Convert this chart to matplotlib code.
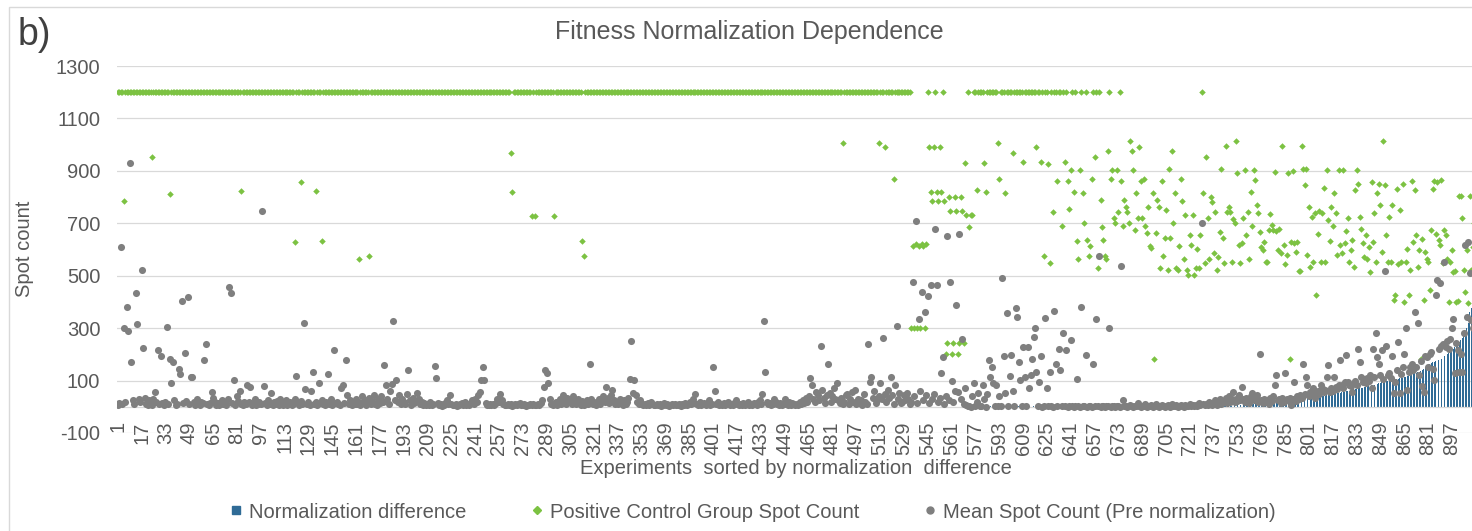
import numpy as np
import matplotlib
matplotlib.use('Agg')
import matplotlib.pyplot as plt
from matplotlib.lines import Line2D
from matplotlib.patches import Rectangle

plt.rcParams['font.family'] = ['Liberation Sans', 'DejaVu Sans']
plt.rcParams['axes.unicode_minus'] = False

TEXT = '#595959'
GRID = '#d9d9d9'
BLUE = '#2f6b96'
GREEN = '#7cc242'
GREY = '#7f7f7f'

# mean spot count per experiment (pre normalization), experiments 1..912
mean_spot = [
    8, 15, 608, 12, 301, 20, 380, 290, 930, 169, 24, 10, 433, 315, 30, 18,
    520, 226, 35, 12, 8, 25, 15, 5, 30, 56, 20, 218, 10, 192, 14, 6,
    20, 304, 10, 182, 92, 169, 25, 8, 12, 146, 124, 403, 15, 207, 22, 419,
    10, 112, 112, 18, 5, 30, 12, 8, 20, 15, 180, 240, 10, 6, 14, 56,
    35, 20, 8, 15, 5, 12, 25, 10, 18, 6, 30, 456, 433, 15, 101, 8,
    42, 22, 60, 12, 5, 18, 10, 82, 20, 77, 8, 14, 30, 6, 12, 20,
    10, 747, 78, 15, 8, 25, 12, 51, 5, 18, 10, 22, 8, 30, 12, 5,
    15, 25, 8, 12, 20, 6, 10, 30, 118, 15, 8, 22, 12, 319, 67, 10,
    18, 5, 60, 131, 12, 20, 8, 92, 15, 25, 10, 6, 18, 124, 12, 30,
    8, 218, 15, 20, 10, 5, 70, 82, 14, 178, 44, 12, 25, 8, 18, 10,
    30, 12, 20, 8, 40, 15, 25, 5, 18, 35, 10, 22, 45, 12, 8, 28,
    15, 40, 20, 158, 82, 30, 12, 60, 88, 327, 25, 104, 18, 45, 10, 30,
    20, 12, 48, 142, 25, 8, 35, 15, 22, 51, 30, 10, 18, 6, 14, 5,
    10, 8, 20, 5, 12, 156, 110, 15, 6, 10, 4, 8, 15, 25, 12, 44,
    10, 5, 8, 12, 4, 6, 10, 15, 8, 20, 5, 10, 8, 15, 25, 12,
    30, 20, 44, 56, 101, 153, 101, 15, 8, 5, 10, 6, 12, 8, 15, 30,
    20, 48, 25, 10, 5, 8, 12, 6, 10, 4, 8, 12, 5, 10, 15, 8,
    6, 10, 4, 8, 5, 10, 6, 12, 8, 5, 10, 6, 15, 25, 76, 140,
    127, 91, 28, 12, 6, 10, 20, 8, 15, 30, 10, 44, 20, 12, 35, 18,
    25, 12, 40, 20, 10, 30, 15, 5, 22, 8, 12, 25, 10, 165, 30, 12,
    20, 8, 15, 30, 10, 25, 40, 20, 76, 35, 15, 45, 63, 25, 12, 20,
    10, 30, 15, 8, 25, 12, 20, 35, 107, 252, 53, 101, 44, 20, 10, 25,
    10, 5, 12, 8, 15, 6, 20, 10, 5, 8, 12, 6, 10, 4, 8, 15,
    6, 10, 4, 8, 12, 5, 10, 6, 8, 12, 4, 10, 6, 15, 8, 12,
    20, 10, 30, 15, 48, 12, 8, 20, 5, 10, 15, 6, 12, 25, 8, 10,
    151, 61, 10, 20, 6, 12, 8, 15, 5, 10, 20, 8, 12, 6, 15, 25,
    10, 5, 12, 8, 15, 6, 10, 20, 8, 12, 5, 15, 10, 8, 18, 25,
    12, 48, 328, 132, 20, 10, 15, 8, 12, 31, 20, 10, 8, 15, 6, 10,
    31, 12, 8, 20, 5, 15, 10, 6, 12, 8, 18, 10, 25, 15, 35, 20,
    40, 108, 82, 30, 20, 57, 45, 25, 231, 63, 35, 15, 45, 165, 51, 20,
    40, 70, 30, 91, 25, 15, 35, 10, 20, 45, 47, 12, 30, 57, 20, 63,
    10, 30, 15, 25, 8, 47, 20, 12, 241, 95, 114, 35, 60, 15, 25, 40,
    89, 30, 264, 50, 20, 63, 35, 114, 45, 10, 82, 309, 30, 51, 15, 20,
    44, 25, 51, 30, 10, 20, 477, 40, 710, 15, 333, 60, 439, 25, 362, 45,
    422, 15, 464, 30, 50, 680, 464, 20, 35, 127, 191, 10, 40, 651, 25, 477,
    99, 20, 60, 390, 57, 661, 30, 257, 10, 70, 5, 2, 3, 1, 40, 89,
    2, 20, 53, 2, 3, 82, 30, 1, 50, 180, 114, 150, 89, 2, 82, 3,
    40, 2, 493, 193, 51, 358, 2, 117, 197, 60, 2, 375, 341, 171, 104, 3,
    229, 114, 2, 229, 70, 121, 184, 267, 299, 133, 2, 95, 193, 1, 3, 337,
    70, 2, 133, 3, 1, 366, 165, 2, 222, 140, 3, 282, 2, 216, 1, 3,
    254, 2, 1, 3, 105, 2, 1, 381, 3, 2, 199, 1, 3, 2, 1, 165,
    2, 334, 3, 575, 1, 2, 3, 1, 2, 3, 299, 1, 2, 3, 1, 2,
    3, 1, 538, 25, 2, 3, 1, 2, 8, 3, 1, 2, 3, 15, 2, 1,
    3, 2, 12, 1, 3, 2, 5, 1, 3, 10, 2, 1, 3, 8, 2, 1,
    3, 5, 2, 1, 10, 3, 2, 6, 1, 3, 8, 2, 1, 5, 3, 2,
    12, 3, 5, 2, 8, 4, 15, 6, 700, 10, 5, 12, 8, 20, 10, 6,
    15, 25, 8, 12, 30, 10, 18, 22, 35, 15, 40, 20, 28, 57, 18, 30,
    22, 45, 25, 76, 30, 20, 35, 28, 15, 40, 51, 25, 30, 44, 20, 203,
    25, 15, 30, 25, 20, 10, 35, 22, 40, 82, 123, 25, 30, 15, 35, 20,
    130, 28, 25, 35, 6, 30, 95, 22, 40, 28, 45, 35, 165, 50, 114, 82,
    40, 55, 45, 70, 35, 51, 60, 48, 82, 70, 55, 65, 114, 159, 58, 72,
    60, 114, 75, 68, 85, 178, 82, 70, 95, 197, 95, 85, 78, 57, 90, 100,
    82, 219, 172, 114, 95, 105, 89, 110, 100, 120, 70, 219, 115, 280, 191, 165,
    120, 216, 105, 519, 231, 121, 130, 110, 193, 53, 95, 140, 248, 51, 125, 150,
    201, 299, 63, 133, 150, 165, 140, 360, 152, 318, 121, 175, 79, 57, 193, 190,
    152, 200, 210, 146, 104, 426, 483, 220, 473, 231, 240, 553, 229, 250, 219, 260,
    299, 333, 127, 244, 216, 133, 201, 133, 280, 617, 341, 630, 509, 330, 300, 310,
]

# positive control spot count: experiments 1..640 sit at the 1200 ceiling
# except the ones listed here
pos_ctrl_ceiling = 1200
pos_ctrl_below = {
    5: 785, 24: 951, 36: 812, 84: 823, 120: 627, 124: 858, 134: 823, 138: 633,
    163: 563, 170: 575, 265: 969, 266: 819, 279: 729, 281: 729, 294: 729,
    313: 632, 314: 575, 488: 1007, 512: 1007, 516: 992, 522: 869,
    534: 301, 535: 613, 536: 301, 537: 620, 538: 301, 539: 613, 540: 301,
    541: 620, 542: 613, 543: 301, 544: 620,
    546: 992, 547: 819, 548: 785, 549: 992, 551: 819, 552: 785, 553: 992,
    554: 819, 556: 785,
    557: 201, 558: 242, 559: 801, 560: 748, 561: 201, 562: 242, 563: 801,
    564: 748, 565: 201, 566: 242, 567: 801, 568: 748, 569: 242, 570: 929,
    571: 731, 573: 687, 574: 731, 575: 731, 578: 827, 583: 929, 584: 819,
    592: 1007, 593: 869, 597: 815, 602: 969, 609: 932,
    618: 990, 621: 932, 623: 575, 626: 926, 627: 547, 629: 744, 632: 861,
    635: 689, 637: 932, 639: 861, 640: 754,
}
# experiments 641..912
pos_ctrl_tail = [
    903, 1200, 819, 1200, 632, 563, 903, 1200, 814, 700, 1200, 638, 575, 613, 869, 1200,
    954, 1200, 530, 1200, 789, 687, 638, 575, 563, 977, 1200, 869, 903, 719, 700, 903,
    744, 1200, 861, 689, 789, 763, 744, 700, 1014, 977, 903, 674, 814, 719, 992, 861,
    719, 869, 689, 664, 763, 614, 604, 814, 182, 664, 789, 763, 530, 861, 575, 642,
    750, 521, 906, 642, 977, 700, 814, 528, 521, 614, 869, 786, 563, 731, 521, 502,
    655, 617, 731, 502, 528, 602, 528, 655, 1200, 814, 547, 954, 719, 563, 801, 782,
    585, 744, 521, 572, 668, 906, 642, 547, 995, 744, 763, 744, 553, 715, 700, 1014,
    893, 617, 547, 626, 719, 903, 655, 744, 562, 820, 690, 903, 865, 770, 738, 668,
    611, 598, 630, 551, 551, 674, 735, 693, 674, 894, 672, 600, 678, 585, 995, 617,
    544, 579, 893, 182, 630, 900, 623, 591, 630, 519, 519, 995, 906, 846, 906, 579,
    763, 534, 725, 551, 740, 426, 659, 748, 551, 738, 833, 551, 903, 712, 632, 763,
    690, 814, 738, 579, 903, 617, 585, 903, 626, 672, 722, 553, 598, 636, 534, 827,
    903, 850, 725, 677, 626, 572, 655, 563, 610, 515, 858, 630, 740, 553, 814, 850,
    770, 591, 1014, 846, 655, 551, 725, 551, 770, 407, 426, 829, 544, 750, 551, 850,
    401, 551, 603, 426, 521, 862, 630, 827, 655, 534, 598, 182, 640, 407, 591, 563,
    553, 445, 674, 829, 862, 661, 858, 636, 617, 865, 547, 674, 655, 563, 398, 553,
    600, 515, 519, 401, 404, 804, 804, 719, 521, 439, 598, 395, 803, 520, 610, 700,
]

# normalization difference, zero up to experiment 570, values for 571..912
norm_diff_zero_until = 570
norm_diff_tail = [
    1, 2, 1, 1, 2, 1, 2, 1, 1, 2, 1, 2, 1, 1, 2, 1,
    2, 1, 2, 1, 2, 2, 1, 2, 1, 2, 2, 1, 2, 2, 1, 2,
    2, 2, 1, 2, 2, 2, 1, 2, 2, 2, 2, 1, 2, 2, 2, 2,
    2, 1, 2, 2, 2, 2, 2, 1, 2, 2, 2, 2, 2, 2, 1, 2,
    2, 2, 2, 2, 2, 3, 2, 2, 2, 2, 2, 2, 3, 2, 2, 2,
    2, 2, 3, 2, 2, 2, 2, 3, 2, 2, 2, 3, 2, 2, 2, 2,
    3, 2, 2, 2, 3, 2, 2, 3, 2, 2, 2, 3, 2, 3, 2, 2,
    3, 2, 3, 2, 2, 3, 2, 3, 2, 3, 2, 3, 2, 3, 3, 2,
    3, 3, 2, 3, 3, 2, 3, 3, 3, 2, 3, 3, 3, 3, 2, 3,
    3, 3, 3, 3, 2, 3, 3, 3, 3, 3, 3, 3, 3, 3, 3, 3,
    3, 3, 4, 3, 3, 3, 3, 4, 3, 3, 3, 4, 3, 3,
    3, 4, 3, 5, 4, 6, 5, 7, 6, 8, 7, 9, 8, 10, 9, 11,
    12, 11, 13, 12, 14, 13, 15, 14, 16, 15, 17, 16, 18, 17, 19, 18,
    20, 19, 21, 20, 22, 21, 23, 22, 24, 23, 25, 24, 26, 25, 27, 26,
    28, 27, 29, 30, 29, 31, 32, 31, 33, 34, 35, 34, 36, 37, 38, 38,
    40, 41, 42, 43, 44, 45, 46, 47, 48, 50, 51, 52, 53, 54, 56, 57,
    58, 60, 61, 62, 63, 64, 66, 67, 68, 70, 71, 72, 73, 75, 76, 78,
    79, 80, 82, 84, 85, 87, 88, 90, 91, 93, 94, 96, 98, 99, 101, 103,
    100, 102, 103, 105, 106, 108, 110, 111, 113, 115, 117, 119, 121, 123, 125, 127,
    129, 131, 134, 137, 140, 143, 147, 152, 157, 162, 166, 170, 172, 174, 176, 178,
    180, 184, 188, 192, 196, 200, 205, 210, 216, 222, 228, 234, 240, 248, 256, 264,
    272, 285, 300, 318, 360, 375, 380, 390,
]

n_exp = len(mean_spot)
experiments = np.arange(1, n_exp + 1)
pos_ctrl = [pos_ctrl_below.get(i, pos_ctrl_ceiling) for i in range(1, 641)] + pos_ctrl_tail
norm_diff = [0] * norm_diff_zero_until + norm_diff_tail
assert len(pos_ctrl) == n_exp and len(norm_diff) == n_exp, (len(pos_ctrl), len(norm_diff), n_exp)

tick_labels = experiments[::16]
y_ticks = list(range(-100, 1301, 200))

# ---- figure ----
W, H = 1472, 531
fig = plt.figure(figsize=(W / 100, H / 100), dpi=100)
ax = fig.add_axes([117 / W, (H - 433) / H, (1475 - 117) / W, (433 - 66) / H])

ax.bar(experiments, norm_diff, width=0.62, color=BLUE, zorder=2, linewidth=0)
ax.scatter(experiments, pos_ctrl, marker='D', s=11, color=GREEN, linewidths=0, zorder=3)
ax.scatter(experiments, mean_spot, marker='o', s=26, color=GREY, linewidths=0, zorder=4)

ax.set_xlim(0.5, n_exp + 0.5)
ax.set_ylim(-100, 1300)
ax.yaxis.grid(True, color=GRID, linewidth=0.9, zorder=0)
ax.set_axisbelow(True)

# category axis crosses at zero, labels hang below it
for side in ['top', 'right', 'left']:
    ax.spines[side].set_visible(False)
ax.spines['bottom'].set_position(('data', 0))
ax.spines['bottom'].set_color(GRID)
ax.spines['bottom'].set_linewidth(0.9)

ax.set_yticks(y_ticks)
ax.set_xticks(tick_labels)
ax.set_xticklabels([str(t) for t in tick_labels])
ax.tick_params(axis='x', length=0, pad=10.5, labelsize=14.5, labelcolor=TEXT, labelrotation=90)
ax.tick_params(axis='y', length=0, pad=12, labelsize=14.5, labelcolor=TEXT)

fig.text(796 / W, 1 - 468 / H, 'Experiments  sorted by normalization  difference',
         ha='center', va='center', fontsize=14.5, color=TEXT)
fig.text(749 / W, 1 - 32 / H, 'Fitness Normalization Dependence', ha='center', va='center',
         fontsize=18, color=TEXT)
fig.text(18 / W, 1 - 35 / H, 'b)', ha='left', va='center', fontsize=27, color='#404040')
fig.text(25 / W, 1 - 249 / H, 'Spot count', ha='center', va='center', rotation=90,
         fontsize=14.5, color=TEXT)

handles = [
    Line2D([], [], marker='s', linestyle='none', markersize=6, color=BLUE),
    Line2D([], [], marker='D', linestyle='none', markersize=3.6, color=GREEN),
    Line2D([], [], marker='o', linestyle='none', markersize=5, color=GREY),
]
labels = ['Normalization difference', 'Positive Control Group Spot Count',
          'Mean Spot Count (Pre normalization)']
fig.legend(handles, labels, loc='center', bbox_to_anchor=(753 / W, 1 - 512 / H), ncol=3,
           frameon=False, fontsize=14.5, labelcolor=TEXT, handlelength=0.6,
           handletextpad=0.35, columnspacing=3.2)

# chart area border
fig.patches.append(Rectangle((9 / W, -0.5), 2, 1.5 - 7 / H, transform=fig.transFigure,
                             fill=False, edgecolor=GRID, linewidth=1))

fig.savefig('out.png', dpi=100)
